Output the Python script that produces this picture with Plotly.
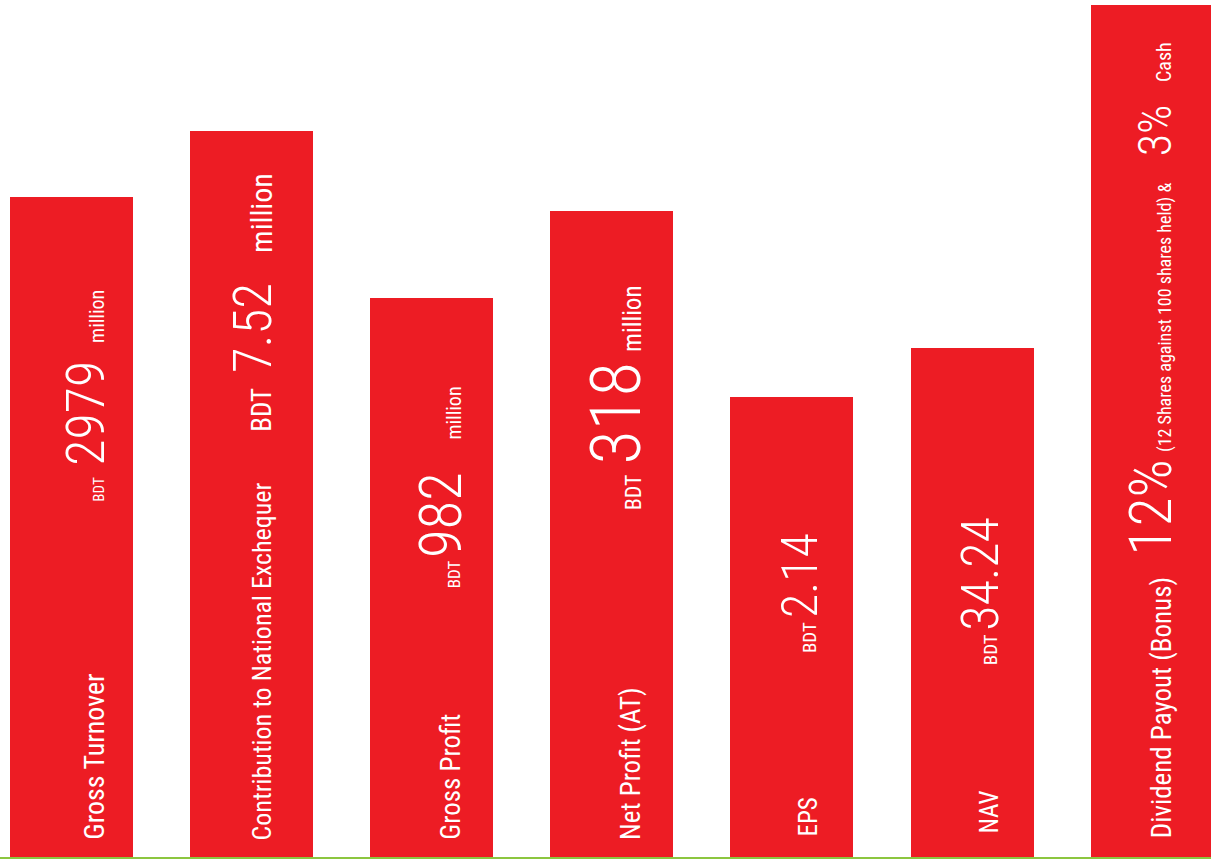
import plotly.graph_objects as go

# ---------------- data ----------------
categories = ["Gross Turnover", "Contribution to National Exchequer", "Gross Profit",
              "Net Profit (AT)", "EPS", "NAV", "Dividend Payout (Bonus)"]
# relative bar heights (arbitrary units)
bar_heights = [660, 726, 559, 646, 460, 509, 852]
currency = ["BDT", "BDT", "BDT", "BDT", "BDT", "BDT", ""]
values = ["2979", "7.52", "982", "318", "2.14", "34.24", "12%"]
units = ["million", "million", "million", "million", "", "", ""]
dividend_note = "(12 Shares against 100 shares held) &"
dividend_cash = "3%"
dividend_cash_label = "Cash"

# ---------------- style / layout ----------------
W, H = 1211, 859
PLOT_H = 857
RED = "#ed1c24"
GREEN = "#8cc63f"
FONT = "Roboto Condensed, DejaVu Sans Condensed, Liberation Sans Narrow, sans-serif"
X_RANGE = [-0.397, 6.327]
BAR_WIDTH = 0.683
DESC = 0.244  # font descent ratio

# baseline offset (px) of the rotated text line from bar centre
baseline_off = [33, 20.5, 29.5, 29.5, 25.5, 26.5, 20]
# (start pixel from top, font size) for each text piece
label_pos = [(841, 28), (841, 26), (841, 27), (841, 27), (838, 25), (835, 25), (839, 27)]
cur_pos = [(503, 15), (433, 27), (589, 17), (511, 22), (654, 19), (666, 19), None]
val_pos = [(467, 54), (374, 53), (559, 59), (465, 70), (619, 50), (632, 52), (557, 60)]
unit_pos = [(344, 20), (254, 30), (441, 20), (353, 25), None, None, None]
note_pos = (453, 18)
cash_pos = (157, 46)
cashlab_pos = (83, 20)

fig = go.Figure(go.Bar(
    x=categories, y=bar_heights, width=BAR_WIDTH,
    marker=dict(color=RED, line=dict(width=0)),
    hoverinfo="skip",
))

annotations = []


def add_piece(i, text, start_px, size, weight=400):
    annotations.append(dict(
        x=i, y=PLOT_H - start_px - 1, xref="x", yref="y",
        text=text, showarrow=False, textangle=-90,
        xanchor="right", yanchor="bottom",
        xshift=baseline_off[i] + DESC * size + 1,
        font=dict(family=FONT, size=size, color="white", weight=weight),
    ))


for i, lab in enumerate(categories):
    add_piece(i, lab, *label_pos[i])
    if cur_pos[i] and currency[i]:
        add_piece(i, currency[i], *cur_pos[i])
    add_piece(i, values[i], *val_pos[i], weight=300)
    if unit_pos[i] and units[i]:
        add_piece(i, units[i], *unit_pos[i])

add_piece(6, dividend_note, *note_pos)
add_piece(6, dividend_cash, *cash_pos, weight=300)
add_piece(6, dividend_cash_label, *cashlab_pos)

fig.update_layout(
    width=W, height=H,
    margin=dict(l=0, r=0, t=0, b=H - PLOT_H, pad=0),
    paper_bgcolor="white", plot_bgcolor="white",
    showlegend=False, bargap=0,
    annotations=annotations,
    xaxis=dict(type="category", range=X_RANGE, showticklabels=False, ticks="",
               showgrid=False, zeroline=False, showline=True, linecolor=GREEN,
               linewidth=2, fixedrange=True),
    yaxis=dict(range=[0, PLOT_H], visible=False, showgrid=False, zeroline=False,
               fixedrange=True),
)

fig.write_html("out.html", config={"displayModeBar": False},
               post_script="document.body.style.margin='0px';")
